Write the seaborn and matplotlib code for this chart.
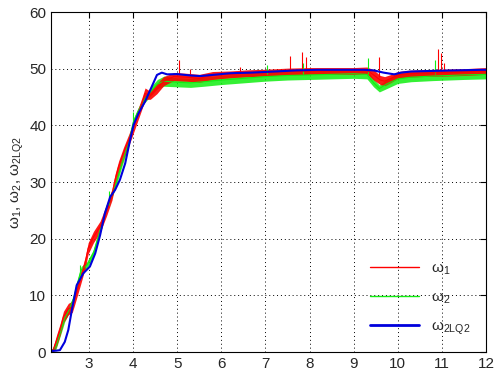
import pandas as pd
import matplotlib
matplotlib.use('Agg')
import matplotlib.pyplot as plt
import seaborn as sns

# omega_1 (red): time, lower and upper edge of the noisy band
red_t = [2.15, 2.19, 2.27, 2.34, 2.42, 2.53, 2.62, 2.68, 2.80, 2.91, 2.98, 3.10, 3.25, 3.40,
         3.52, 3.59, 3.67, 3.78, 3.93, 4.05, 4.20, 4.27, 4.39, 4.54, 4.69, 4.92, 5.2, 5.5,
         5.8, 6.2, 6.6, 7.0, 7.5, 8.0, 8.5, 9.0, 9.3, 9.45, 9.6, 9.7, 9.85, 10.0, 10.2,
         10.5, 11.0, 11.5, 12.0]
red_lo = [0.0, 0.0, 1.2, 2.9, 5.2, 6.6, 7.0, 8.5, 11.7, 14.7, 17.3, 19.3, 21.1, 24.1,
          26.8, 29.4, 31.7, 34.1, 37.0, 39.6, 42.9, 44.6, 44.6, 45.6, 47.0, 47.9, 47.8, 47.6,
          48.1, 48.4, 48.6, 48.7, 48.9, 49.0, 49.0, 49.0, 49.1, 48.0, 47.2, 47.0, 47.6, 48.3, 48.5,
          48.6, 48.7, 48.8, 49.0]
red_hi = [0.3, 1.0, 3.2, 4.9, 7.2, 8.6, 9.0, 10.5, 13.7, 16.7, 19.3, 21.3, 23.1, 26.1,
          28.8, 31.4, 33.7, 36.1, 39.0, 41.6, 44.9, 46.6, 46.0, 47.4, 48.6, 49.3, 49.2, 49.0,
          49.5, 49.6, 49.8, 49.9, 50.1, 50.2, 50.2, 50.2, 50.3, 49.8, 48.8, 48.6, 49.0, 49.5, 49.7,
          49.8, 49.9, 50.0, 50.2]
red_spike_t = [5.05, 5.30, 6.43, 7.55, 7.82, 7.91, 9.58, 10.90, 10.98, 11.05]
red_spike_lo = [49.0, 49.0, 49.5, 49.8, 49.8, 49.8, 48.5, 49.5, 49.5, 49.5]
red_spike_hi = [51.5, 50.0, 50.3, 52.3, 52.9, 52.0, 52.0, 53.4, 52.8, 51.0]

# omega_2 (green)
green_t = [2.15, 2.25, 2.35, 2.45, 2.55, 2.65, 2.75, 2.82, 2.95, 3.10, 3.25, 3.40, 3.50,
           3.60, 3.75, 3.90, 4.00, 4.10, 4.25, 4.40, 4.55, 4.70, 5.0, 5.3, 5.6, 6.0, 6.5,
           7.0, 7.5, 8.0, 8.5, 9.0, 9.3, 9.45, 9.58, 9.75, 10.0, 10.3, 10.8, 11.5, 12.0]
green_lo = [0.0, 0.5, 2.9, 5.4, 6.9, 8.9, 11.9, 13.9, 14.7, 16.9, 20.9, 24.9, 26.9,
            28.9, 32.9, 36.4, 39.9, 41.7, 43.9, 45.2, 46.5, 46.9, 46.8, 46.7, 46.9, 47.2, 47.5,
            47.8, 48.0, 48.1, 48.2, 48.3, 48.2, 46.8, 45.9, 46.5, 47.4, 47.7, 47.9, 48.1, 48.2]
green_hi = [0.2, 1.5, 4.1, 6.6, 8.1, 10.1, 13.1, 15.1, 15.9, 18.1, 22.1, 26.1, 28.1,
            30.1, 34.1, 37.6, 41.1, 42.9, 45.1, 46.8, 48.1, 48.7, 48.4, 48.3, 48.5, 48.8, 49.1,
            49.4, 49.6, 49.7, 49.8, 49.9, 49.8, 48.2, 47.1, 48.1, 49.0, 49.3, 49.5, 49.7, 49.8]
green_spike_t = [2.80, 3.45, 4.00, 7.04, 7.86, 9.33, 10.85]
green_spike_lo = [13.5, 26.0, 39.5, 49.0, 49.0, 49.0, 49.0]
green_spike_hi = [15.3, 28.5, 42.3, 50.6, 51.0, 51.8, 51.5]

# omega_2LQ2 (blue)
blue_t = [2.14, 2.25, 2.34, 2.45, 2.53, 2.61, 2.72, 2.87, 3.02, 3.14, 3.25, 3.36, 3.48,
          3.59, 3.70, 3.82, 3.93, 4.01, 4.12, 4.27, 4.42, 4.54, 4.65, 4.77, 5.0, 5.3, 5.52,
          5.8, 6.2, 6.66, 7.2, 7.7, 8.17, 8.7, 9.23, 9.45, 9.68, 9.84, 9.92, 10.07, 10.3,
          10.75, 11.3, 11.89, 12.0]
blue_w = [0.2, 0.25, 0.35, 1.8, 3.9, 7.4, 11.8, 13.9, 15.1, 17.4, 20.6, 24.5, 27.4,
          28.6, 30.4, 33.3, 37.4, 40.1, 42.1, 44.2, 46.8, 48.9, 49.3, 49.0, 49.05, 48.8, 48.7,
          48.9, 49.2, 49.3, 49.5, 49.7, 49.8, 49.8, 49.8, 49.7, 49.3, 49.1, 49.0, 49.3, 49.5,
          49.6, 49.7, 49.8, 49.8]

x_ticks = [3, 4, 5, 6, 7, 8, 9, 10, 11, 12]
y_ticks = [0, 10, 20, 30, 40, 50, 60]

sns.set_style('white')
plt.rcParams['font.family'] = ['Liberation Sans', 'DejaVu Sans']
plt.rcParams['mathtext.default'] = 'regular'

RED, GREEN, BLUE = '#ff0000', '#11ee11', '#0000dd'


def band(t, lo, hi):
    return pd.DataFrame({'t': t + t, 'w': lo + hi})


fig = plt.figure(figsize=(4.96, 3.75), dpi=100)
ax = fig.add_axes([0.103, 0.061, 0.877, 0.907])

# green under red in the rise, blue on top
sns.lineplot(data=band(green_t, green_lo, green_hi), x='t', y='w', estimator='mean',
             errorbar=('pi', 100), color=GREEN, lw=0.8, ax=ax,
             err_kws={'alpha': 0.85, 'linewidth': 0})
ax.vlines(green_spike_t, green_spike_lo, green_spike_hi, colors=GREEN, lw=0.8)

sns.lineplot(data=band(red_t, red_lo, red_hi), x='t', y='w', estimator='mean',
             errorbar=('pi', 100), color=RED, lw=0.8, ax=ax,
             err_kws={'alpha': 0.9, 'linewidth': 0})
ax.vlines(red_spike_t, red_spike_lo, red_spike_hi, colors=RED, lw=0.8)

sns.lineplot(x=blue_t, y=blue_w, color=BLUE, lw=1.5, ax=ax)

ax.set_xlim(2.14, 12)
ax.set_ylim(0, 60)
ax.set_xticks(x_ticks)
ax.set_yticks(y_ticks)
ax.set_xlabel('')
ax.set_ylabel(r'$\omega_1$, $\omega_2$, $\omega_{2LQ2}$', fontsize=11, labelpad=2)
ax.tick_params(direction='in', length=4, labelsize=11, top=True, right=True, color='k')
ax.grid(True, linestyle=(0, (1, 3)), color='k', linewidth=0.7)
for s in ax.spines.values():
    s.set_color('k')
    s.set_linewidth(0.8)

handles = [plt.Line2D([], [], color=RED, lw=1.0),
           plt.Line2D([], [], color=GREEN, lw=1.0),
           plt.Line2D([], [], color=BLUE, lw=2.0)]
ax.legend(handles, [r'$\omega_1$', r'$\omega_2$', r'$\omega_{2LQ2}$'],
          loc='lower right', frameon=False, fontsize=11, handlelength=3.2,
          labelspacing=0.9, borderaxespad=0.6)

plt.savefig('out.png', dpi=100)
